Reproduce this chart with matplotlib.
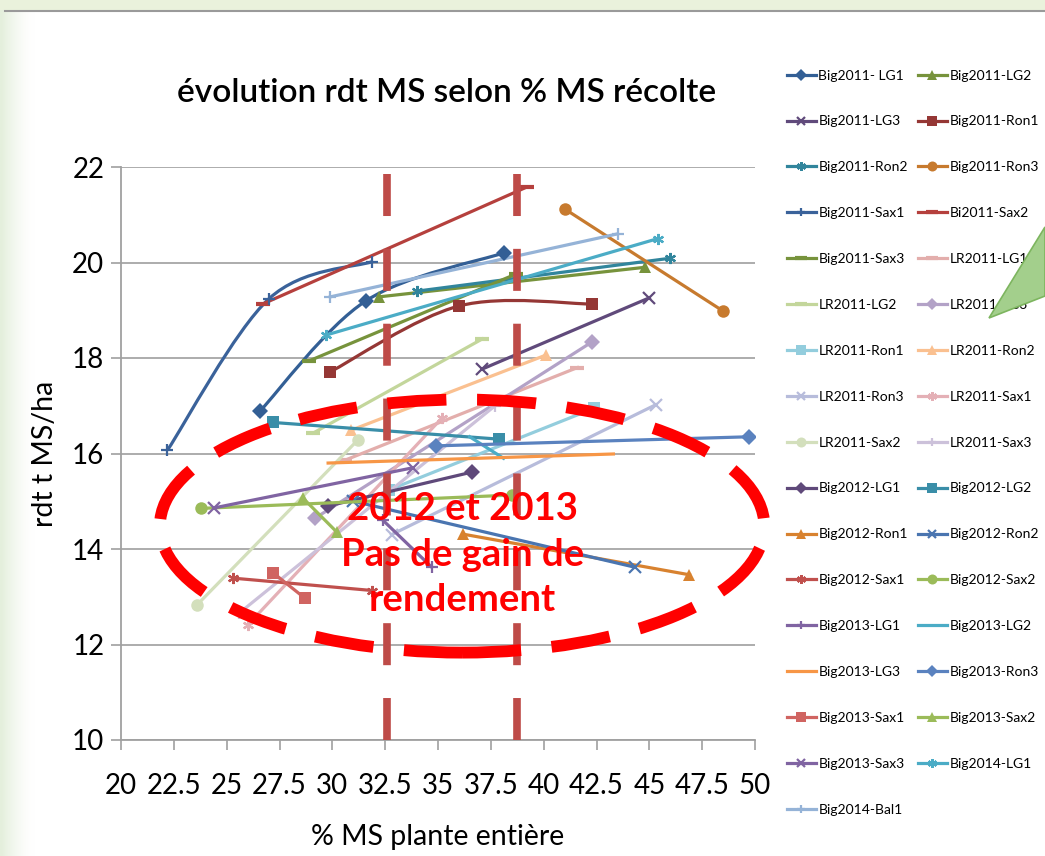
import numpy as np
import matplotlib
matplotlib.use('Agg')
import matplotlib.pyplot as plt
from matplotlib.path import Path
from matplotlib.patches import PathPatch, Ellipse, Polygon, Rectangle
from matplotlib.colors import LinearSegmentedColormap
from matplotlib.lines import Line2D

plt.rcParams['font.family'] = ['Lato', 'DejaVu Sans']

# % MS plante entiere / rdt t MS/ha for each trial
names = ['Big2011- LG1', 'Big2011-LG2', 'Big2011-LG3', 'Big2011-Ron1', 'Big2011-Ron2',
         'Big2011-Ron3', 'Big2011-Sax1', 'Bi2011-Sax2', 'Big2011-Sax3', 'LR2011-LG1',
         'LR2011-LG2', 'LR2011-LG3', 'LR2011-Ron1', 'LR2011-Ron2', 'LR2011-Ron3',
         'LR2011-Sax1', 'LR2011-Sax2', 'LR2011-Sax3', 'Big2012-LG1', 'Big2012-LG2',
         'Big2012-Ron1', 'Big2012-Ron2', 'Big2012-Sax1', 'Big2012-Sax2', 'Big2013-LG1',
         'Big2013-LG2', 'Big2013-LG3', 'Big2013-Ron3', 'Big2013-Sax1', 'Big2013-Sax2',
         'Big2013-Sax3', 'Big2014-LG1', 'Big2014-Bal1']

ms = [
    [26.6, 31.6, 38.1], [32.2, 44.8], [37.1, 45.0], [29.9, 36.0, 42.3], [34.0, 46.0],
    [41.0, 48.5], [22.2, 27.0, 31.9], [26.7, 39.2], [28.9, 38.7], [30.6, 41.6],
    [29.1, 37.1], [29.2, 42.3], [32.7, 42.4], [30.9, 40.1], [32.8, 45.3],
    [26.0, 35.2], [23.6, 31.2], [25.6, 37.7], [29.8, 36.6], [27.2, 37.9],
    [36.2, 46.9], [31.0, 44.3], [25.3, 31.9], [23.8, 38.5], [32.4, 34.7],
    [36.5, 38.1], [29.8, 43.3], [34.9, 49.7], [27.2, 28.7], [28.6, 30.2],
    [24.4, 33.8], [29.7, 45.4], [29.9, 43.5],
]
rdt = [
    [16.9, 19.2, 20.2], [19.28, 19.9], [17.77, 19.26], [17.71, 19.09, 19.13], [19.4, 20.09],
    [21.12, 18.98], [16.07, 19.24, 20.02], [19.13, 21.58], [17.94, 19.76], [15.86, 17.8],
    [16.43, 18.4], [14.65, 18.34], [15.24, 16.95], [16.49, 18.06], [14.3, 17.02],
    [12.41, 16.75], [12.83, 16.28], [12.66, 17.0], [14.9, 15.61], [16.65, 16.3],
    [14.31, 13.46], [15.0, 13.62], [13.39, 13.13], [14.85, 15.13], [14.6, 13.62],
    [16.35, 15.9], [15.8, 15.99], [16.16, 16.35], [13.5, 12.97], [15.07, 14.36],
    [14.86, 15.7], [18.48, 20.5], [19.28, 20.6],
]

colors = ['#335F95', '#77933C', '#604A7B', '#953735', '#31859C',
          '#C77A2E', '#3A629A', '#B5403D', '#77933C', '#E3AEAC',
          '#C3D69B', '#B3A2C7', '#93CDDD', '#FAC090', '#B7BCDB',
          '#E4B0B6', '#D3DFBC', '#CCC1DA', '#5F497A', '#3A8EA8',
          '#D8822F', '#4A75B0', '#C0504D', '#9BBB59', '#8064A2',
          '#4BACC6', '#F79646', '#5A82BF', '#D06461', '#9BBB59',
          '#8064A2', '#4BACC6', '#95B3D7']

ast = (6, 2, 0)
markers = ['D', '^', 'x', 's', ast,
           'o', '+', '_', '_', '_',
           '_', 'D', 's', '^', 'x',
           ast, 'o', '+', 'D', 's',
           '^', 'x', ast, 'o', '+',
           None, None, 'D', 's', '^',
           'x', ast, '+']

smooth = {'Big2011- LG1', 'Big2011-Ron1', 'Big2011-Sax1'}


def bezier_path(xs, ys):
    # Catmull-Rom style cubic segments, the way the spreadsheet smooths a line
    pts = np.column_stack([xs, ys])
    n = len(pts)
    verts = [pts[0]]
    codes = [Path.MOVETO]
    for i in range(n - 1):
        p0 = pts[max(i - 1, 0)]
        p1 = pts[i]
        p2 = pts[i + 1]
        p3 = pts[min(i + 2, n - 1)]
        verts += [p1 + (p2 - p0) / 6.0, p2 - (p3 - p1) / 6.0, p2]
        codes += [Path.CURVE4] * 3
    return Path(verts, codes)


fig = plt.figure(figsize=(10.45, 8.56), dpi=100)

# slide background: pale green bands on top and left
bg = fig.add_axes([0, 0, 1, 1], zorder=-5)
bg.set_axis_off()
gx = np.linspace(0, 1, 400)
band = np.clip(1 - gx * 32, 0, 1) ** 1.5
bg.imshow(np.tile(band, (10, 1)), extent=[0, 1, 0, 1],
          cmap=LinearSegmentedColormap.from_list('g', ['#FFFFFF', '#E4EFDC']),
          aspect='auto', vmin=0, vmax=1)
bg.add_patch(Rectangle((0, 1 - 10 / 856), 1, 10 / 856, color='#EAF2DC', lw=0))
bg.plot([0.005, 1], [1 - 11 / 856, 1 - 11 / 856], color='#9A9A9A', lw=1.5)
bg.set_xlim(0, 1)
bg.set_ylim(0, 1)

ax = fig.add_axes([121 / 1045, 1 - 740 / 856, 634 / 1045, 573 / 856])
ax.set_facecolor('none')

handles = []
for name, x, y, c, m in zip(names, ms, rdt, colors, markers):
    kw = dict(color=c, marker=m, markersize=8, markeredgewidth=1.6)
    if m == '_':
        kw.update(markersize=10, markeredgewidth=3)
    if m in ('D', 's', 'o', '^'):
        kw.update(markeredgewidth=0, markersize=9 if m != 'D' else 8)
    if name in smooth:
        ax.add_patch(PathPatch(bezier_path(x, y), facecolor='none', edgecolor=c, lw=2.3, zorder=2))
        ax.plot(x, y, linestyle='none', zorder=3, **kw)
        handles.append(Line2D([], [], lw=2.3, **kw))
    else:
        h, = ax.plot(x, y, lw=2.3, zorder=2, **kw)
        handles.append(h)

# harvest window markers
for xv in [32.6, 38.75]:
    ax.plot([xv, xv], [21.85, 10.0], color='#BE4B48', lw=5.5, dashes=(5.5, 4.3), zorder=4,
            solid_capstyle='butt', dash_capstyle='butt')

ax.add_patch(Ellipse((36.14, 14.48), 28.6, 5.3, facecolor='none', edgecolor='#FF0000', lw=8.5,
                     linestyle=(0, (5.0, 2.6)), zorder=6, clip_on=False))
ax.text(36.15, 13.88, '2012 et 2013\nPas de gain de\nrendement', color='#FF0000', fontsize=27.5,
        fontweight='bold', ha='center', va='center', linespacing=1.42, zorder=7)

ax.set_xlim(20, 50)
ax.set_ylim(10, 22)
ax.set_xticks(np.arange(20, 50.1, 2.5))
ax.set_xticklabels(['20', '22.5', '25', '27.5', '30', '32.5', '35', '37.5', '40', '42.5', '45', '47.5', '50'])
ax.set_yticks(np.arange(10, 22.1, 2))
ax.tick_params(axis='both', labelsize=20, color='#A0A0A0', length=7, width=1.2)
ax.tick_params(axis='x', pad=17)
ax.tick_params(axis='y', pad=5)
ax.grid(axis='y', color='#A6A6A6', lw=1.3)
ax.set_axisbelow(True)
for s in ['top', 'right']:
    ax.spines[s].set_visible(False)
for s in ['left', 'bottom']:
    ax.spines[s].set_color('#A0A0A0')
    ax.spines[s].set_linewidth(1.3)

ax.set_xlabel('% MS plante entière', fontsize=20.5, labelpad=18)
ax.set_ylabel('rdt t MS/ha', fontsize=20.5, labelpad=10)
fig.text(447 / 1045, 1 - 93 / 856, 'évolution rdt MS selon % MS récolte', fontsize=24,
         fontweight='semibold', ha='center', va='center')

order = list(range(0, 33, 2)) + list(range(1, 33, 2))
fig.legend([handles[i] for i in order], [names[i] for i in order], ncol=2, loc='upper left',
           bbox_to_anchor=(774 / 1045, 1 - 57 / 856), frameon=False, fontsize=10,
           handlelength=2.1, handletextpad=0.2, columnspacing=0.7, labelspacing=2.44,
           numpoints=1, markerscale=0.8)

# green callout pointer over the legend
fig.add_artist(Polygon([(989 / 1045, 1 - 318 / 856), (1045 / 1045, 1 - 227 / 856), (1045 / 1045, 1 - 296 / 856)],
                       closed=True, facecolor='#A3CF8C', edgecolor='#7DB55F', lw=1.2, zorder=30,
                       transform=fig.transFigure))

fig.savefig('out.png', dpi=100)
